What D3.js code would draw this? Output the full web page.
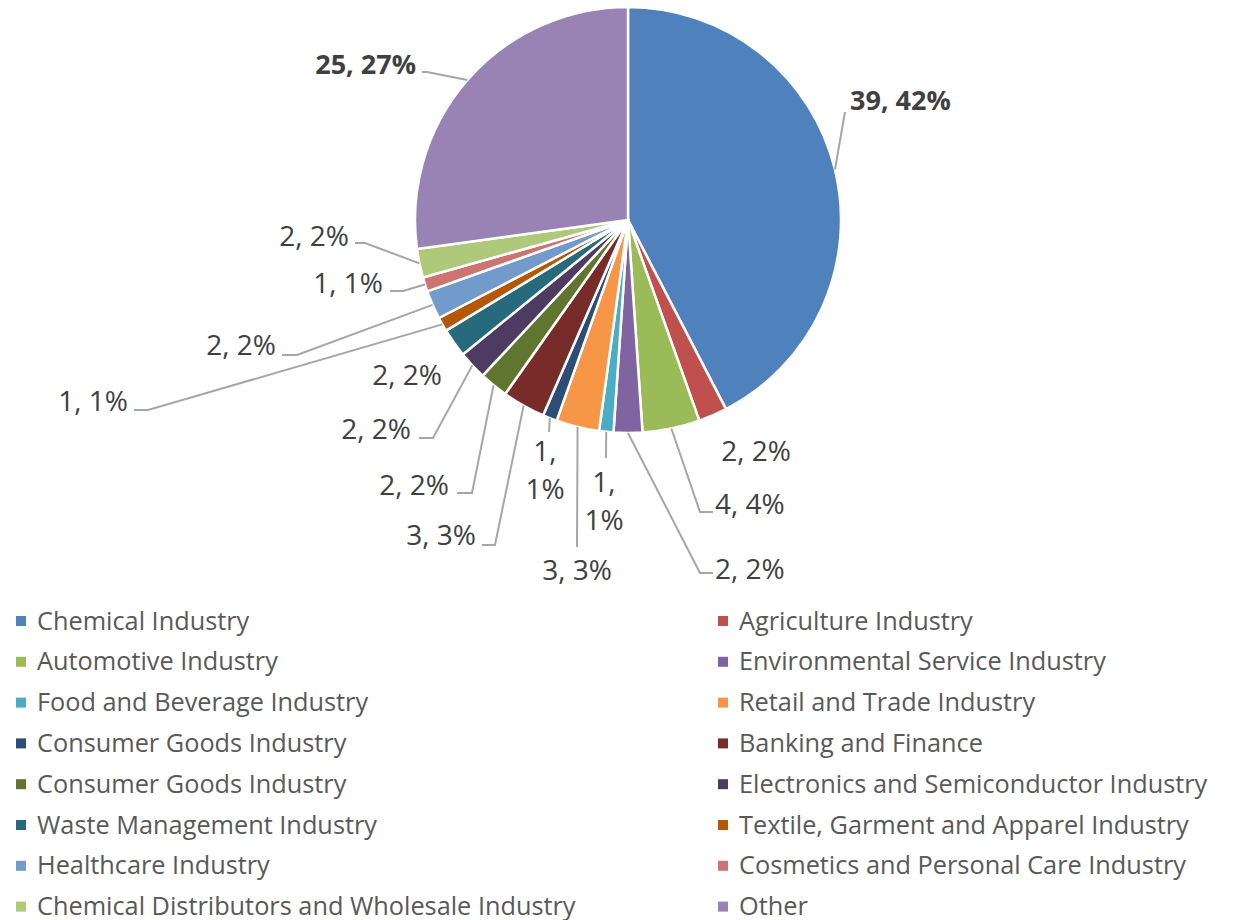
<!DOCTYPE html>
<html>
<head>
<meta charset="utf-8">
<script src="https://cdn.jsdelivr.net/npm/d3@7.9.0/dist/d3.min.js"></script>
<style>
  body { margin: 0; background: #fff; }
  svg { display: block; }
  text { font-family: "Open Sans", sans-serif; }
</style>
</head>
<body>
<svg id="chart" width="1235" height="920"></svg>
<script>
const categories = [
  'Chemical Industry', 'Agriculture Industry', 'Automotive Industry',
  'Environmental Service Industry', 'Food and Beverage Industry', 'Retail and Trade Industry',
  'Consumer Goods Industry', 'Banking and Finance', 'Consumer Goods Industry',
  'Electronics and Semiconductor Industry', 'Waste Management Industry',
  'Textile, Garment and Apparel Industry', 'Healthcare Industry',
  'Cosmetics and Personal Care Industry', 'Chemical Distributors and Wholesale Industry', 'Other'
];
const counts = [39, 2, 4, 2, 1, 3, 1, 3, 2, 2, 2, 1, 2, 1, 2, 25];
const sliceColors = [
  '#4f81bd', '#c0504d', '#9bbb59', '#8064a2', '#4bacc6', '#f79646',
  '#2c4d75', '#772c2a', '#5f7530', '#4d3b62', '#276a7c', '#b65708',
  '#729aca', '#cd7371', '#afc97a', '#9983b5'
];

// where each data label sits and how its leader line bends
const labelLayout = [
  { x: 850, y: 100, anchor: 'start', bold: true, leader: [[845, 112]] },
  { x: 756, y: 451, anchor: 'middle' },
  { x: 715, y: 504, anchor: 'start', leader: [[700, 512], [713, 512]] },
  { x: 715, y: 569, anchor: 'start', leader: [[700, 573], [713, 573]] },
  { x: 604, y: 482, anchor: 'middle', wrap: true, leader: [[606, 458]] },
  { x: 577, y: 570, anchor: 'middle', leader: [[577, 547]] },
  { x: 545, y: 451, anchor: 'middle', wrap: true, leader: [[549, 432]] },
  { x: 476, y: 535, anchor: 'end', leader: [[495, 545], [482, 545]] },
  { x: 449, y: 485, anchor: 'end', leader: [[472, 493], [457, 493]] },
  { x: 411, y: 429, anchor: 'end', leader: [[433, 438], [419, 438]] },
  { x: 407, y: 375, anchor: 'middle' },
  { x: 128, y: 401, anchor: 'end', leader: [[148, 410], [134, 410]] },
  { x: 276, y: 345, anchor: 'end', leader: [[297, 355], [282, 355]] },
  { x: 383, y: 283, anchor: 'end', leader: [[403, 291], [390, 291]] },
  { x: 349, y: 236, anchor: 'end', leader: [[365, 243], [355, 243]] },
  { x: 416, y: 64, anchor: 'end', bold: true, leader: [[427, 72], [422, 72]] }
];

const svg = d3.select('#chart');
const cx = 628, cy = 220, radius = 213;
const labelSize = 28;
const total = d3.sum(counts);

const data = categories.map((name, i) => ({ name, value: counts[i], color: sliceColors[i], i }));

const pie = d3.pie().sort(null).value(d => d.value);
const arcs = pie(data);
const arcGen = d3.arc().innerRadius(0).outerRadius(radius);
const edgeArc = d3.arc().innerRadius(radius).outerRadius(radius);

const g = svg.append('g').attr('transform', `translate(${cx},${cy})`);

g.selectAll('path.slice')
  .data(arcs)
  .join('path')
  .attr('class', 'slice')
  .attr('d', arcGen)
  .attr('fill', d => d.data.color)
  .attr('stroke', '#fff')
  .attr('stroke-width', 2.5)
  .attr('stroke-linejoin', 'round');

// leader lines
const line = d3.line();
arcs.forEach((d, idx) => {
  const lay = labelLayout[idx];
  if (!lay.leader) return;
  const [ex, ey] = edgeArc.centroid(d);
  const pts = [[cx + ex, cy + ey], ...lay.leader];
  svg.append('path')
    .attr('d', line(pts))
    .attr('fill', 'none')
    .attr('stroke', '#a6a6a6')
    .attr('stroke-width', 2);
});

// data labels
arcs.forEach((d, idx) => {
  const lay = labelLayout[idx];
  const pct = Math.round(d.data.value / total * 100);
  const lines = lay.wrap ? [`${d.data.value},`, `${pct}%`] : [`${d.data.value}, ${pct}%`];
  const t = svg.append('text')
    .attr('text-anchor', lay.anchor)
    .attr('font-size', lay.bold ? 27 : labelSize)
    .attr('font-weight', lay.bold ? 700 : 400)
    .attr('fill', '#404040');
  lines.forEach((s, k) => {
    t.append('tspan')
      .attr('x', lay.x)
      .attr('y', lay.y + k * 38 + labelSize * 0.357)
      .text(s);
  });
});

// legend
const legendSize = 25.3;
const rowY = d3.scaleLinear().domain([0, 1]).range([620.5, 661.3]);
const colX = [16, 718];

const legend = svg.append('g');
data.forEach((d, i) => {
  const col = i % 2, row = Math.floor(i / 2);
  const y = rowY(row);
  legend.append('rect')
    .attr('x', colX[col])
    .attr('y', y - 4.5)
    .attr('width', 10)
    .attr('height', 10)
    .attr('fill', d.color);
  legend.append('text')
    .attr('x', colX[col] + 21)
    .attr('y', y + legendSize * 0.357)
    .attr('font-size', legendSize)
    .attr('fill', '#595959')
    .text(d.name);
});
</script>
</body>
</html>
